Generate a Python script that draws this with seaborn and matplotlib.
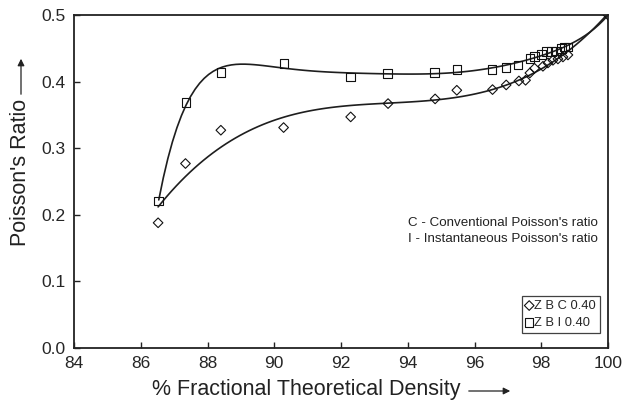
import warnings
import numpy as np
import pandas as pd
import matplotlib
matplotlib.use("Agg")
import matplotlib.pyplot as plt
import seaborn as sns

warnings.filterwarnings("ignore")

# % fractional theoretical density and Poisson's ratio, conventional (C) series
density_C = [86.52, 87.34, 88.40, 90.28, 92.29, 93.41, 94.82, 95.47, 96.54, 96.95,
             97.33, 97.53, 97.66, 97.80, 98.05, 98.20, 98.35, 98.50, 98.65, 98.80, 100.0]
ratio_C = [0.188, 0.277, 0.327, 0.331, 0.347, 0.367, 0.374, 0.387, 0.388, 0.395,
           0.401, 0.402, 0.413, 0.420, 0.423, 0.428, 0.432, 0.434, 0.437, 0.440, 0.500]

# instantaneous (I) series
density_I = [86.54, 87.35, 88.40, 90.29, 92.29, 93.40, 94.80, 95.47, 96.53, 96.95,
             97.30, 97.66, 97.80, 98.00, 98.15, 98.31, 98.45, 98.60, 98.70, 98.80]
ratio_I = [0.221, 0.369, 0.414, 0.427, 0.407, 0.412, 0.414, 0.418, 0.418, 0.421,
           0.425, 0.435, 0.438, 0.441, 0.445, 0.445, 0.446, 0.450, 0.452, 0.452]

# fully dense material: Poisson's ratio tends to 0.5
full_density = 100.0
full_ratio = 0.5

legend_C = "Z B C 0.40"
legend_I = "Z B I 0.40"
note_lines = ["C - Conventional Poisson's ratio", "I - Instantaneous Poisson's ratio"]
x_ticks = [84, 86, 88, 90, 92, 94, 96, 98, 100]
y_ticks = [0.0, 0.1, 0.2, 0.3, 0.4, 0.5]

sns.set_style("ticks")
plt.rcParams["font.family"] = ["Liberation Sans", "DejaVu Sans"]
plt.rcParams["xtick.direction"] = "in"
plt.rcParams["ytick.direction"] = "in"

fig = plt.figure(figsize=(6.23, 4.05), dpi=100)
ax = fig.add_axes([74 / 623, 1 - 348 / 405, (608 - 74) / 623, (348 - 15) / 405])

# polynomial trend lines
line_kws = dict(color="#1e1e1e", lw=1.2)
sns.regplot(x=density_I + [full_density], y=ratio_I + [full_ratio], order=7, ci=None,
            scatter=False, truncate=True, line_kws=line_kws, ax=ax)
sns.regplot(x=density_C, y=ratio_C, order=3, ci=None, scatter=False,
            truncate=True, line_kws=line_kws, ax=ax)

sns.scatterplot(x=density_C, y=ratio_C, marker="D", s=24, facecolor="none",
                edgecolor="#111111", linewidth=0.8, ax=ax, label=legend_C, zorder=3)
sns.scatterplot(x=density_I, y=ratio_I, marker="s", s=38, facecolor="none",
                edgecolor="#111111", linewidth=0.8, ax=ax, label=legend_I, zorder=3)

ax.set_xlim(84, 100)
ax.set_ylim(0.0, 0.5)
ax.set_xticks(x_ticks)
ax.set_yticks(y_ticks)
ax.set_xticklabels([str(t) for t in x_ticks], fontsize=12.5)
ax.set_yticklabels([f"{t:.1f}" for t in y_ticks], fontsize=12.5)
ax.tick_params(length=4, width=1, color="#222222", pad=6)
for side in ["top", "right", "bottom", "left"]:
    ax.spines[side].set_visible(True)
    ax.spines[side].set_linewidth(1.3)
    ax.spines[side].set_color("#222222")
ax.set_xlabel("")
ax.set_ylabel("")

leg = ax.legend(loc="lower right", bbox_to_anchor=(0.985, 0.045), fontsize=9.3,
                frameon=True, fancybox=False, handlelength=0.5, handletextpad=0.15,
                borderpad=0.3, labelspacing=0.4, borderaxespad=0)
leg.get_frame().set_edgecolor("#111111")
leg.get_frame().set_linewidth(0.9)

ax.text(99.7, 0.187, note_lines[0], ha="right", va="center", fontsize=9.6, color="#222222")
ax.text(99.7, 0.163, note_lines[1], ha="right", va="center", fontsize=9.6, color="#222222")

# axis titles with direction arrows
fig.text(306 / 623, 1 - 390 / 405, "% Fractional Theoretical Density", ha="center",
         va="center", fontsize=15.5, color="#222222")
fig.patches.append(matplotlib.patches.FancyArrowPatch(
    (466 / 623, 1 - 391 / 405), (513 / 623, 1 - 391 / 405), transform=fig.transFigure,
    arrowstyle="-|>,head_length=4,head_width=2", color="#222222", lw=0.9))

fig.text(21 / 623, 1 - 172 / 405, "Poisson's Ratio", ha="center", va="center",
         rotation=90, fontsize=15.5, color="#222222")
fig.patches.append(matplotlib.patches.FancyArrowPatch(
    (21 / 623, 1 - 97 / 405), (21 / 623, 1 - 56 / 405), transform=fig.transFigure,
    arrowstyle="-|>,head_length=4,head_width=2", color="#222222", lw=0.9))

fig.savefig("out.png", dpi=100, facecolor="white")
